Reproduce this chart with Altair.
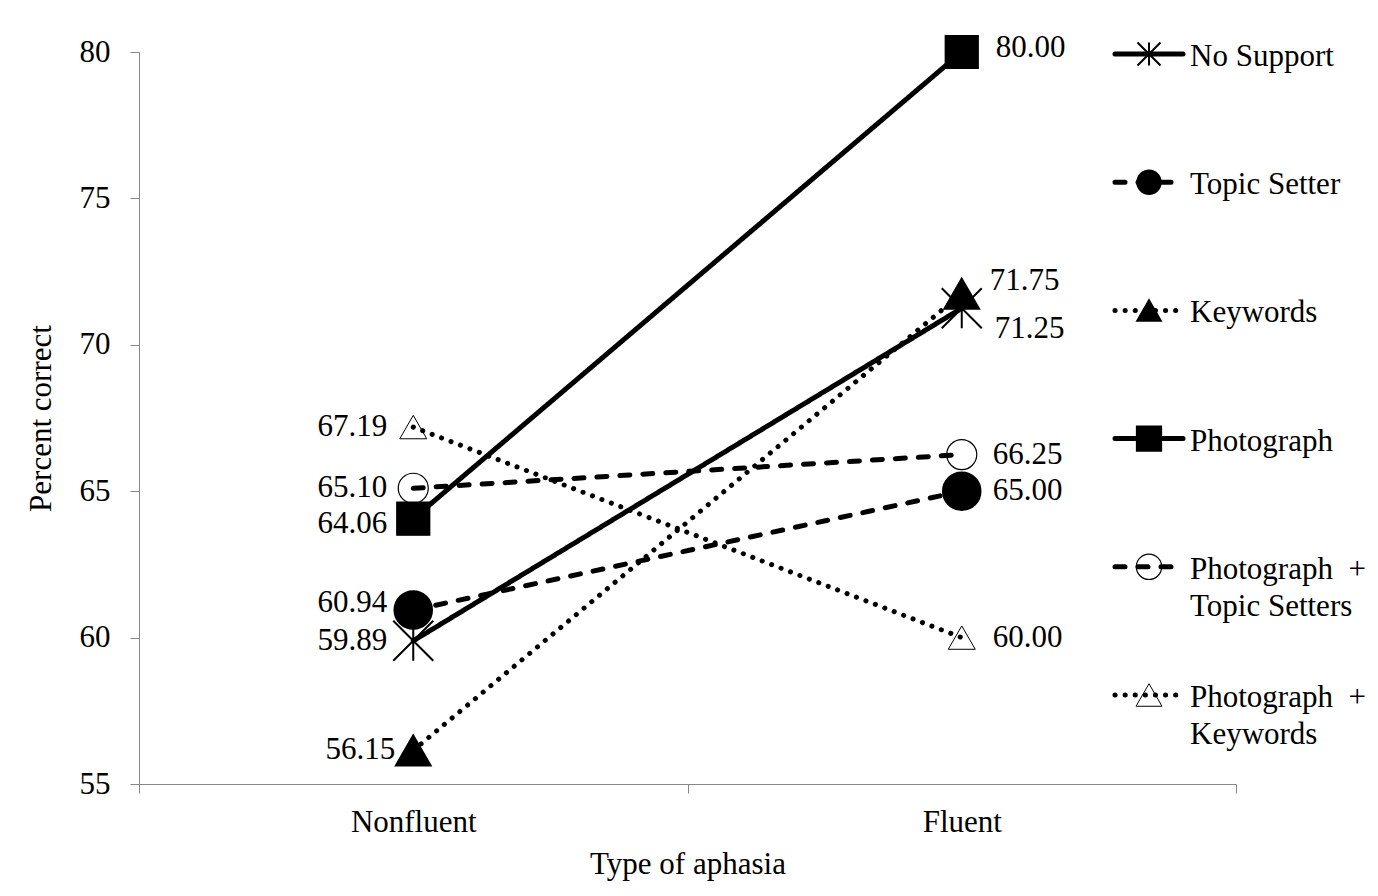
import altair as alt
import pandas as pd

# ---- data ----
series = ["No Support", "Topic Setter", "Keywords", "Photograph",
          "Photograph + Topic Setters", "Photograph + Keywords"]
legend_labels = ["No Support", "Topic Setter", "Keywords", "Photograph",
                 "Photograph\u00a0\u00a0+\nTopic Setters",
                 "Photograph\u00a0\u00a0+\nKeywords"]
aphasia = ["Nonfluent", "Fluent"]
nonfluent = [59.89, 60.94, 56.15, 64.06, 65.10, 67.19]
fluent = [71.25, 65.00, 71.75, 80.00, 66.25, 60.00]

rows = []
for s, a, b in zip(series, nonfluent, fluent):
    rows.append({"series": s, "aphasia": "Nonfluent", "value": a, "label": f"{a:.2f}"})
    rows.append({"series": s, "aphasia": "Fluent", "value": b, "label": f"{b:.2f}"})
df = pd.DataFrame(rows)
leg_df = pd.DataFrame({"series": series, "label": legend_labels})

# ---- styles ----
FONT = "Liberation Serif"
FS = 31
SOLID, DASH, DOT = [1, 0], [10, 13], [0.1, 10]
ASTER = "M-1,-1L1,1M-1,1L1,-1M0,-1L0,1"

dash_scale = alt.Scale(domain=series, range=[SOLID, DASH, DOT, SOLID, DASH, DOT])
shape_scale = alt.Scale(domain=series, range=[ASTER, "circle", "triangle-up", "square", "circle", "triangle-up"])
fill_scale = alt.Scale(domain=series, range=["transparent", "black", "black", "black", "transparent", "transparent"])
sw_scale = alt.Scale(domain=series, range=[2, 1, 1, 1, 2, 2])

xs = alt.Scale(domain=aphasia, paddingInner=0, paddingOuter=0)
ys = alt.Scale(domain=[55, 80], nice=False, zero=False)

x_enc = alt.X("aphasia:N", scale=xs, sort=aphasia,
              axis=alt.Axis(title="Type of aphasia", labelAngle=0, tickBand="extent",
                            tickSize=9, tickColor="#888888", domainColor="#888888",
                            labelFont=FONT, labelFontSize=FS, labelColor="black",
                            labelPadding=14, titleFont=FONT, titleFontSize=FS,
                            titleFontWeight="normal", titleColor="black", titlePadding=12,
                            grid=False))
y_enc = alt.Y("value:Q", scale=ys,
              axis=alt.Axis(title="Percent correct", values=[55, 60, 65, 70, 75, 80],
                            tickSize=9, tickColor="#888888", domainColor="#888888",
                            labelFont=FONT, labelFontSize=FS, labelColor="black",
                            labelPadding=20, titleFont=FONT, titleFontSize=FS,
                            titleFontWeight="normal", titleColor="black", titlePadding=22,
                            grid=False))

base = alt.Chart(df)

lines = base.mark_line(strokeWidth=5, strokeCap="round", color="black").encode(
    x=x_enc, y=y_enc,
    strokeDash=alt.StrokeDash("series:N", scale=dash_scale, legend=None),
)

points = base.mark_point(filled=False, color="black", opacity=1).encode(
    x=alt.X("aphasia:N", scale=xs, sort=aphasia),
    y=alt.Y("value:Q", scale=ys),
    shape=alt.Shape("series:N", scale=shape_scale, legend=None),
    fill=alt.Fill("series:N", scale=fill_scale, legend=None),
    strokeWidth=alt.StrokeWidth("series:N", scale=sw_scale, legend=None),
    size=alt.Size("series:N", scale=alt.Scale(domain=series, range=[1600, 729, 841, 729, 729, 841]), legend=None),
)

# label placement nudges (dx, dy) per point
nudges = {
    ("Keywords", "Nonfluent"): (8, 0),
    ("Photograph", "Nonfluent"): (0, 5),
    ("Topic Setter", "Nonfluent"): (0, -7),
    ("Keywords", "Fluent"): (-3, -13),
    ("No Support", "Fluent"): (2, 21),
    ("Photograph", "Fluent"): (3, -4),
}
label_layers = []
for s in series:
    for a in aphasia:
        ndx, ndy = nudges.get((s, a), (0, 0))
        if a == "Nonfluent":
            mk = dict(align="right", dx=-26 + ndx)
        else:
            mk = dict(align="left", dx=31 + ndx)
        label_layers.append(
            base.transform_filter(
                (alt.datum.series == s) & (alt.datum.aphasia == a)
            ).mark_text(baseline="middle", dy=ndy, font=FONT, fontSize=FS, color="black", **mk).encode(
                x=alt.X("aphasia:N", scale=xs, sort=aphasia),
                y=alt.Y("value:Q", scale=ys),
                text="label:N",
            )
        )

main = alt.layer(lines, points, *label_layers)

# ---- legend (drawn with its own scales) ----
legX = alt.Scale(domain=[0, 1], range=[976, 1044])
legY = alt.Scale(type="point", domain=series, range=[2, 643], padding=0)
lbase = alt.Chart(leg_df)
ly = alt.Y("series:N", scale=legY, axis=None)

leg_lines = lbase.mark_rule(strokeWidth=5, strokeCap="round", color="black").encode(
    x=alt.XDatum(0, type="quantitative", scale=legX, axis=None),
    x2=alt.X2Datum(1),
    y=ly,
    strokeDash=alt.StrokeDash("series:N", scale=dash_scale, legend=None),
)
leg_pts = lbase.mark_point(filled=False, color="black", opacity=1).encode(
    x=alt.XDatum(0.5, type="quantitative", scale=legX, axis=None),
    y=ly,
    shape=alt.Shape("series:N", scale=shape_scale, legend=None),
    fill=alt.Fill("series:N", scale=fill_scale, legend=None),
    strokeWidth=alt.StrokeWidth("series:N", scale=sw_scale, legend=None),
    size=alt.Size("series:N", scale=alt.Scale(domain=series, range=[529, 676, 484, 484, 256, 289]), legend=None),
)
leg_txt = lbase.mark_text(align="left", baseline="alphabetic", dx=7, dy=12, lineBreak="\n",
                          lineHeight=37, font=FONT, fontSize=FS, color="black").encode(
    x=alt.XDatum(1, type="quantitative", scale=legX, axis=None),
    y=ly,
    text="label:N",
)
legend = alt.layer(leg_lines, leg_pts, leg_txt)

chart = alt.layer(main, legend).resolve_scale(
    x="independent", y="independent", size="independent"
).properties(
    width=1097, height=732,
    padding={"left": 131, "top": 44, "right": 130, "bottom": 100},
    autosize=alt.AutoSizeParams(type="none"),
    background="white",
).configure_view(stroke=None)

chart.save("out.html", embed_options={"renderer": "svg", "actions": False})
